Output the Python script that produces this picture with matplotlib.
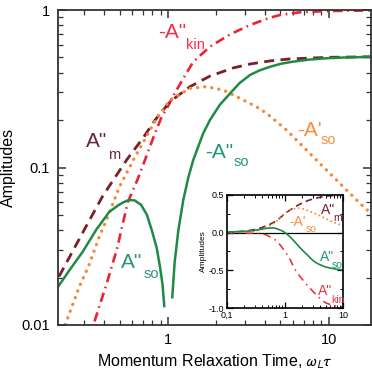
import matplotlib
matplotlib.use("Agg")
import matplotlib.pyplot as plt
from matplotlib import ticker

plt.rcParams['font.family'] = ['Liberation Sans', 'DejaVu Sans']
plt.rcParams['mathtext.fontset'] = 'stixsans'

# values (x = omega_L * tau)
x_m = [0.1, 0.2065, 0.32, 0.393, 0.554, 0.703, 0.83, 1.03, 1.37, 1.82, 2.55, 3.24, 4.31, 5.73, 10.1, 20]
amp_m = [0.0045, 0.0197, 0.045, 0.066, 0.112, 0.155, 0.2, 0.262, 0.326, 0.38, 0.429, 0.454, 0.475, 0.489, 0.501, 0.505]

x_kin = [0.1, 0.3435, 0.412, 0.48, 0.562, 0.65, 0.703, 0.83, 0.914, 1.0, 1.079, 1.245, 1.436, 1.823, 2.43, 3.24, 4.2, 4.96, 6.61, 9.68, 20]
amp_kin = [0.0004, 0.01, 0.0178, 0.03, 0.06, 0.085, 0.105, 0.165, 0.21, 0.245, 0.285, 0.368, 0.469, 0.585, 0.7, 0.803, 0.886, 0.929, 0.967, 0.985, 0.995]

x_so1 = [0.1, 0.229, 0.281, 0.32, 0.374, 0.42, 0.498, 0.624, 0.755, 0.851, 1.03, 1.37, 1.74, 2.21, 2.8, 3.55, 4.1, 5.46, 7.99, 11.7, 15.6, 20]
amp_so1 = [0.0008, 0.01, 0.0175, 0.0235, 0.0364, 0.048, 0.075, 0.117, 0.165, 0.207, 0.268, 0.318, 0.326, 0.31, 0.275, 0.243, 0.221, 0.173, 0.117, 0.0794, 0.0593, 0.047]

x_so2_pos = [0.1, 0.208, 0.244, 0.295, 0.357, 0.432, 0.49, 0.523, 0.555, 0.58, 0.62, 0.68, 0.74, 0.792, 0.85, 0.892, 0.925, 0.948]
amp_so2_pos = [0.0085, 0.0176, 0.0223, 0.0292, 0.0401, 0.0524, 0.0575, 0.0598, 0.0615, 0.0622, 0.0618, 0.058, 0.05, 0.0401, 0.031, 0.0234, 0.018, 0.0132]
x_so2_neg = [1.063, 1.1, 1.16, 1.245, 1.34, 1.436, 1.656, 1.823, 2.1, 2.487, 2.8, 3.24, 3.7, 4.31, 5.0, 6.0, 7.5, 9.68, 13, 20]
amp_so2_neg = [0.015, 0.025, 0.04, 0.0622, 0.087, 0.1116, 0.165, 0.2, 0.25, 0.303, 0.345, 0.387, 0.413, 0.436, 0.455, 0.47, 0.484, 0.494, 0.5, 0.505]

c_m = '#7a2026'
c_kin = '#ee2233'
c_so1 = '#f5893a'
c_so2 = '#1e8a45'

W, H = 372, 378
fig = plt.figure(figsize=(W / 100, H / 100), dpi=100)
ax = fig.add_axes([58 / W, 1 - 325 / H, 313 / W, 315 / H])

ax.plot(x_kin, amp_kin, color=c_kin, lw=1.9, linestyle=(0, (3.6, 1.8, 0.6, 1.8)))
ax.plot(x_m, amp_m, color=c_m, lw=2.0, linestyle=(0, (3.6, 2.3)))
ax.plot(x_so1, amp_so1, color=c_so1, lw=2.4, linestyle=(0, (0.05, 2.1)), dash_capstyle='round')
ax.plot(x_so2_pos, amp_so2_pos, color=c_so2, lw=1.8)
ax.plot(x_so2_neg, amp_so2_neg, color=c_so2, lw=1.8)

ax.set_xscale('log')
ax.set_yscale('log')
ax.set_xlim(0.207, 18.3)
ax.set_ylim(0.01, 1)
fmt = ticker.FuncFormatter(lambda v, _: f"{v:g}")
ax.xaxis.set_major_formatter(fmt)
ax.yaxis.set_major_formatter(fmt)
ax.xaxis.set_minor_formatter(ticker.NullFormatter())
ax.yaxis.set_minor_formatter(ticker.NullFormatter())
ax.tick_params(which='both', direction='in', top=True, right=True, color='#333333', labelsize=10.5)
ax.tick_params(which='major', length=6, width=1.1, pad=6)
ax.tick_params(which='minor', length=3.5, width=0.9)
for s in ax.spines.values():
    s.set_linewidth(1.3)
    s.set_color('#333333')
ax.set_xlabel(r"Momentum Relaxation Time, $\omega_L\tau$", fontsize=11.5, labelpad=4)
ax.set_ylabel("Amplitudes", fontsize=11.5, labelpad=4)


def ptext(px, py, s, size, color):
    fig.text(px / W, 1 - py / H, s, ha='center', va='center', fontsize=size, color=color)


ptext(172, 33, '-A"', 15, '#f0304a')
ptext(195, 45, 'kin', 10.5, '#f0304a')
ptext(97, 142, 'A"', 15, '#6b2436')
ptext(114, 155, 'm', 10.5, '#6b2436')
ptext(309, 130, "-A'", 15, '#f5903e')
ptext(328, 140, 'so', 10.5, '#f5903e')
ptext(219, 153, '-A"', 15, '#26967a')
ptext(241, 162, 'so', 10.5, '#26967a')
ptext(132, 263, 'A"', 15, '#2c9478')
ptext(151, 274, 'so', 10.5, '#2c9478')

# inset, same curves on a linear scale with signs
axi = fig.add_axes([227 / W, 1 - 308 / H, 116 / W, 113 / H])
axi.set_facecolor('white')
axi.axhline(0, color='black', lw=0.9)
axi.plot(x_kin, [-v for v in amp_kin], color=c_kin, lw=1.1, linestyle=(0, (5, 3, 1, 3)))
axi.plot(x_m, amp_m, color=c_m, lw=1.2, linestyle=(0, (4, 2.5)))
axi.plot(x_so1, amp_so1, color=c_so1, lw=1.4, linestyle=(0, (0.05, 2.2)), dash_capstyle='round')
axi.plot(x_so2_pos + x_so2_neg, amp_so2_pos + [-v for v in amp_so2_neg], color=c_so2, lw=1.2)
axi.set_xscale('log')
axi.set_xlim(0.1, 10)
axi.set_ylim(-1.0, 0.5)
axi.set_xticks([0.1, 1, 10], ['0,1', '1', '10'])
axi.xaxis.set_minor_formatter(ticker.NullFormatter())
axi.set_yticks([-1.0, -0.5, 0.0, 0.5], ['-1.0', '-0.5', '0.0', '0.5'])
axi.yaxis.set_minor_locator(ticker.MultipleLocator(0.25))
axi.tick_params(which='both', direction='in', top=True, right=True, labelsize=6.5, pad=2)
axi.tick_params(which='major', length=4, width=0.9)
axi.tick_params(which='minor', length=2, width=0.7)
for s in axi.spines.values():
    s.set_linewidth(1.2)
axi.set_ylabel("Amplitudes", fontsize=6, labelpad=1)

ptext(328, 210, 'A"', 10, '#6b2436')
ptext(338, 218, 'm', 7.5, '#6b2436')
ptext(298, 222, "-A'", 10, '#f5903e')
ptext(311, 229, 'so', 7.5, '#f5903e')
ptext(327, 257, 'A"', 10, '#26967a')
ptext(337, 265, 'so', 7.5, '#26967a')
ptext(325, 291, 'A"', 10, '#f0304a')
ptext(338, 300, 'kin', 7.5, '#f0304a')

fig.savefig('out.png', dpi=100)
